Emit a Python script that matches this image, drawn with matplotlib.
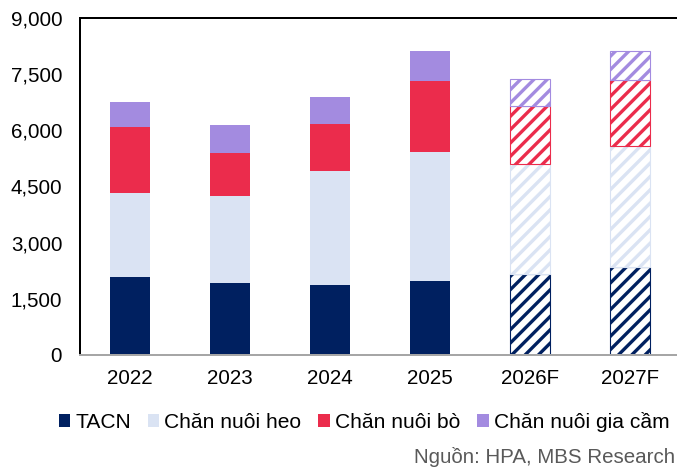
import matplotlib.pyplot as plt
import numpy as np
from matplotlib.patches import Patch
from matplotlib.ticker import FuncFormatter

# Segment values per year (not cumulative)
years = ["2022", "2023", "2024", "2025", "2026F", "2027F"]
tacn = [2092, 1923, 1870, 1985, 2172, 2359]
chan_nuoi_heo = [2226, 2315, 3054, 3429, 2921, 3232]
chan_nuoi_bo = [1763, 1166, 1255, 1913, 1549, 1754]
chan_nuoi_gia_cam = [668, 739, 721, 784, 722, 766]
is_forecast = [False, False, False, False, True, True]

series_names = ["TACN", "Chăn nuôi heo", "Chăn nuôi bò", "Chăn nuôi gia cầm"]
colors = ["#002060", "#dae3f3", "#eb2c4c", "#a38be0"]

plt.rcParams["font.family"] = ["Liberation Sans", "DejaVu Sans"]
plt.rcParams["hatch.linewidth"] = 3.0

DPI = 80
fig = plt.figure(figsize=(677 / DPI, 473 / DPI), dpi=DPI)
ax = fig.add_axes([80 / 677, 1 - 355 / 473, 1 - 80 / 677, (355 - 18) / 473])

x = np.arange(len(years))
bottom = np.zeros(len(years))
for values, color in zip([tacn, chan_nuoi_heo, chan_nuoi_bo, chan_nuoi_gia_cam], colors):
    for i in range(len(years)):
        if is_forecast[i]:
            # forecast years: white fill with diagonal stripes in the series colour
            ax.bar(x[i], values[i], 0.4, bottom=bottom[i], facecolor="white",
                   edgecolor=color, hatch="//", linewidth=1.0, zorder=2)
        else:
            ax.bar(x[i], values[i], 0.4, bottom=bottom[i], color=color,
                   linewidth=0, zorder=2)
    bottom += np.array(values)

ax.set_xlim(-0.5, 5.47)
ax.set_ylim(0, 9000)
ax.set_yticks(np.arange(0, 9001, 1500))
ax.yaxis.set_major_formatter(FuncFormatter(lambda v, p: f"{int(v):,}"))
ax.set_xticks(x)
ax.set_xticklabels(years)
ax.tick_params(axis="y", length=0, pad=16, labelsize=18.5)
ax.tick_params(axis="x", length=0, pad=13, labelsize=18.5)

ax.spines["right"].set_visible(False)
ax.spines["top"].set_color("black")
ax.spines["top"].set_linewidth(1.8)
ax.spines["left"].set_color("black")
ax.spines["left"].set_linewidth(1.8)
ax.spines["bottom"].set_color("#a6a6a6")
ax.spines["bottom"].set_linewidth(1.8)

handles = [Patch(facecolor=c, edgecolor="none") for c in colors]
fig.legend(handles, series_names, loc="center", ncol=4, frameon=False,
           bbox_to_anchor=(364 / 677, 1 - 422 / 473), fontsize=18.9,
           handlelength=0.55, handleheight=0.55, handletextpad=0.24,
           columnspacing=0.8, borderaxespad=0, borderpad=0)

fig.text(675 / 677, 1 - 457 / 473, "Nguồn: HPA, MBS Research", ha="right",
         va="center", fontsize=18.5, color="#595959")

fig.savefig("out.png", dpi=DPI)
